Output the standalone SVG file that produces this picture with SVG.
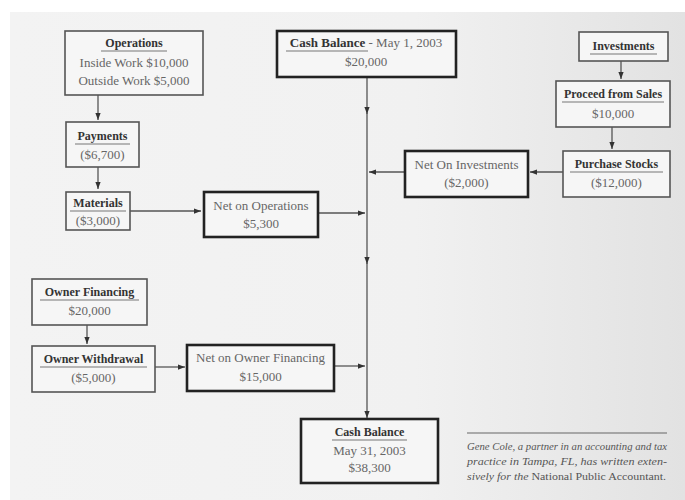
<svg xmlns="http://www.w3.org/2000/svg" width="685" height="500" viewBox="0 0 685 500">
<defs>
<linearGradient id="bg" x1="0" y1="0" x2="1" y2="0">
<stop offset="0" stop-color="#f3f3f3"/>
<stop offset="0.6" stop-color="#f1f1f1"/>
<stop offset="1" stop-color="#e2e2e2"/>
</linearGradient>
<marker id="ah" viewBox="0 0 8 6" refX="8" refY="3" markerWidth="7" markerHeight="5.5" markerUnits="userSpaceOnUse" orient="auto">
<path d="M0,0 L8,3 L0,6 z" fill="#333"/>
</marker>
<style>
.thin{fill:#f6f6f6;stroke:#555;stroke-width:1.6}
.thick{fill:#f6f6f6;stroke:#222;stroke-width:2.6}
.t{font-family:"Liberation Serif",serif;font-size:12px;font-weight:bold;fill:#333;text-anchor:middle}
.v{font-family:"Liberation Serif",serif;font-size:13px;fill:#666;text-anchor:middle}
.u{stroke:#777;stroke-width:1.2}
.c{stroke:#555;stroke-width:1.3;fill:none;marker-end:url(#ah)}
.cap{font-family:"Liberation Serif",serif;font-size:9.5px;font-style:italic;fill:#555}
</style>
</defs>
<rect width="685" height="500" fill="#ffffff"/>
<rect x="10" y="12" width="675" height="488" fill="url(#bg)"/>

<g id="connectors">
<path class="c" d="M98,95 V120"/>
<path class="c" d="M98,167 V189"/>
<path class="c" d="M130,211 H201"/>
<path class="c" d="M318,213 H365"/>
<path class="c" d="M367,77 V114"/>
<path class="c" d="M367,112 V264"/>
<path class="c" d="M367,262 V418"/>
<path class="c" d="M404,172 H369"/>
<path class="c" d="M621,61 V79"/>
<path class="c" d="M612,127 V149"/>
<path class="c" d="M563,172 H530"/>
<path class="c" d="M87,325 V344"/>
<path class="c" d="M155,367 H185"/>
<path class="c" d="M334,366 H365"/>
</g>

<g id="operations">
<rect class="thin" x="65" y="31" width="138" height="64"/>
<text class="t" x="134" y="47">Operations</text>
<line class="u" x1="101" y1="51" x2="167" y2="51"/>
<text class="v" x="134" y="67">Inside Work $10,000</text>
<text class="v" x="134" y="85">Outside Work $5,000</text>
</g>

<g id="payments">
<rect class="thin" x="66" y="122" width="73" height="45"/>
<text class="t" x="102.5" y="140">Payments</text>
<line class="u" x1="75" y1="144" x2="130" y2="144"/>
<text class="v" x="102.5" y="159">($6,700)</text>
</g>

<g id="materials">
<rect class="thin" x="66" y="192" width="64" height="38"/>
<text class="t" x="98" y="207">Materials</text>
<line class="u" x1="70" y1="211" x2="126" y2="211"/>
<text class="v" x="98" y="225">($3,000)</text>
</g>

<g id="net-operations">
<rect class="thick" x="204" y="192" width="114" height="45"/>
<text class="v" x="261" y="210">Net on Operations</text>
<text class="v" x="261" y="228">$5,300</text>
</g>

<g id="cash-start">
<rect class="thick" x="277" y="31" width="179" height="46"/>
<text x="366" y="47" style="font-family:'Liberation Serif',serif;font-size:13px;fill:#666;text-anchor:middle"><tspan font-weight="bold" fill="#333">Cash Balance</tspan> - May 1, 2003</text>
<line class="u" x1="286" y1="51" x2="368" y2="51"/>
<text class="v" x="366" y="66">$20,000</text>
</g>

<g id="investments">
<rect class="thin" x="579" y="32" width="89" height="29"/>
<text class="t" x="623.5" y="50">Investments</text>
<line class="u" x1="590" y1="54" x2="657" y2="54"/>
</g>

<g id="proceed">
<rect class="thin" x="556" y="81" width="114" height="46"/>
<text class="t" x="613" y="98">Proceed from Sales</text>
<line class="u" x1="562" y1="102" x2="664" y2="102"/>
<text class="v" x="613" y="118">$10,000</text>
</g>

<g id="purchase">
<rect class="thin" x="563" y="151" width="107" height="46"/>
<text class="t" x="616.5" y="168">Purchase Stocks</text>
<line class="u" x1="570" y1="172" x2="663" y2="172"/>
<text class="v" x="616.5" y="187">($12,000)</text>
</g>

<g id="net-investments">
<rect class="thick" x="405" y="151" width="123" height="46"/>
<text class="v" x="466.5" y="169">Net On Investments</text>
<text class="v" x="466.5" y="187">($2,000)</text>
</g>

<g id="owner-financing">
<rect class="thin" x="32" y="279" width="115" height="46"/>
<text class="t" x="89.5" y="296">Owner Financing</text>
<line class="u" x1="40" y1="300" x2="139" y2="300"/>
<text class="v" x="89.5" y="315">$20,000</text>
</g>

<g id="owner-withdrawal">
<rect class="thin" x="32" y="346" width="123" height="46"/>
<text class="t" x="93.5" y="363">Owner Withdrawal</text>
<line class="u" x1="40" y1="367" x2="147" y2="367"/>
<text class="v" x="93.5" y="382">($5,000)</text>
</g>

<g id="net-owner-financing">
<rect class="thick" x="187" y="345" width="147" height="46"/>
<text class="v" x="260.5" y="362">Net on Owner Financing</text>
<text class="v" x="260.5" y="381">$15,000</text>
</g>

<g id="cash-end">
<rect class="thick" x="301" y="419" width="137" height="64"/>
<text class="t" x="369.5" y="436">Cash Balance</text>
<line class="u" x1="332" y1="440" x2="407" y2="440"/>
<text class="v" x="369.5" y="455">May 31, 2003</text>
<text class="v" x="369.5" y="472">$38,300</text>
</g>

<g id="caption">
<line x1="467" y1="433" x2="667" y2="433" stroke="#666" stroke-width="1.2"/>
<text class="cap" x="467" y="450" textLength="200" lengthAdjust="spacingAndGlyphs">Gene Cole, a partner in an accounting and tax</text>
<text class="cap" x="467" y="465" textLength="200" lengthAdjust="spacingAndGlyphs">practice in Tampa, FL, has written exten-</text>
<text class="cap" x="467" y="480" textLength="199" lengthAdjust="spacingAndGlyphs">sively for the <tspan font-style="normal">National Public Accountant.</tspan></text>
</g>
</svg>
